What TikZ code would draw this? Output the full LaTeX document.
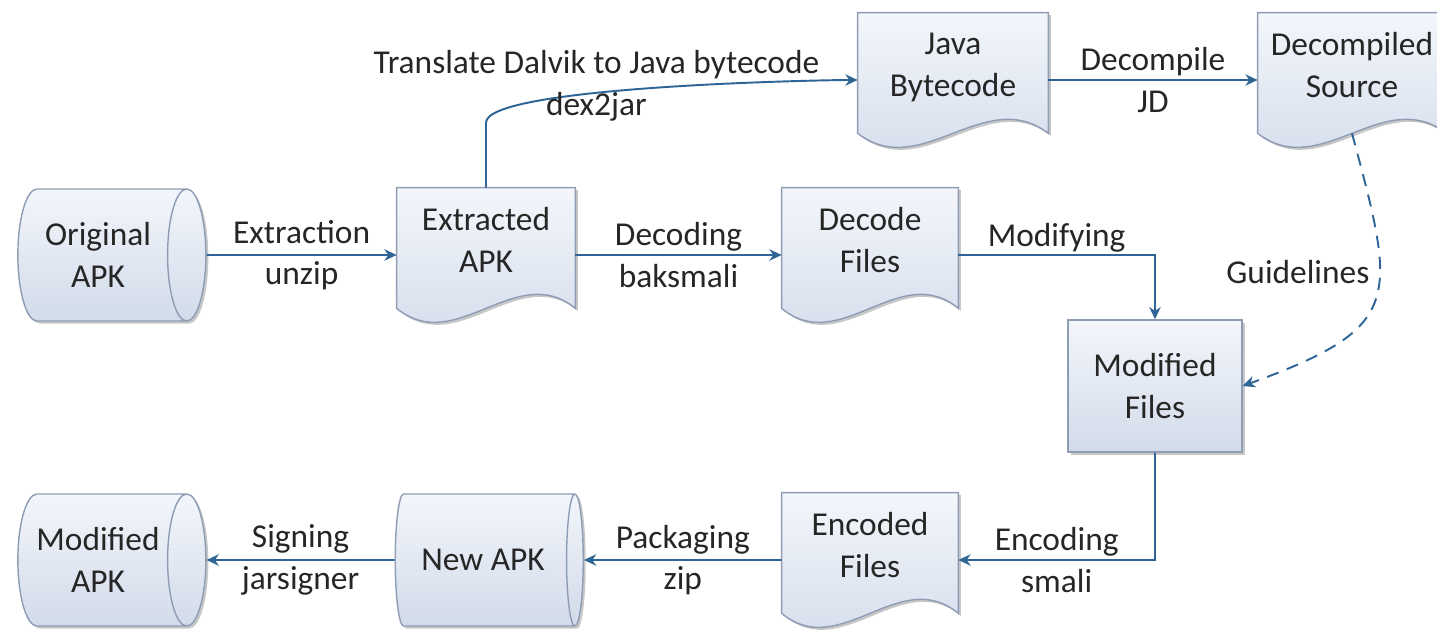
\documentclass[tikz,border=0pt]{standalone}
\usepackage{fontspec}
\setmainfont{Carlito}
\usetikzlibrary{shapes.geometric, arrows.meta, calc, backgrounds, shadows}

\definecolor{boxline}{HTML}{8E9DB4}
\definecolor{boxtop}{HTML}{F3F6FB}
\definecolor{boxbottom}{HTML}{D2DBEA}
\definecolor{flowblue}{HTML}{2F6496}
\definecolor{labeltext}{HTML}{262626}

\begin{document}
\begin{tikzpicture}[
    font=\fontsize{19}{23.7}\selectfont,
    text=labeltext,
    softshadow/.style={drop shadow={shadow xshift=0.05cm, shadow yshift=-0.05cm, fill=black, opacity=0.22}},
    apkstore/.style={cylinder, draw=boxline, line width=0.8pt, top color=boxtop, bottom color=boxbottom, aspect=0.5, minimum width=2.64cm, minimum height=3.76cm, align=center, softshadow},
    docbox/.style={rectangle, minimum height=2.68cm, align=center, text depth=0.6cm},
    docedge/.style={draw=boxline, line width=0.8pt, top color=boxtop, bottom color=boxbottom, softshadow},
    filebox/.style={rectangle, draw=boxline, line width=0.8pt, top color=boxtop, bottom color=boxbottom, minimum width=3.48cm, minimum height=2.64cm, align=center, softshadow},
    flow/.style={-{Stealth[length=7pt, width=6.5pt]}, draw=flowblue, line width=1.1pt},
    guide/.style={flow, dash pattern=on 7pt off 5pt},
    steplabel/.style={align=center, text=labeltext},
  ]
    \useasboundingbox (0,0) rectangle (28.74,12.6);

    % APK files
    \node[apkstore] (original) at (1.96, 7.5) {Original\\APK};
    \node[apkstore] (newapk) at (9.66, 1.4) {New APK};
    \node[apkstore] (modifiedapk) at (1.96, 1.4) {Modified\\APK};

    % document boxes
    \node[docbox, minimum width=3.56cm] (extracted) at (9.72, 7.5) {Extracted\\APK};
    \node[docbox, minimum width=3.52cm] (decode) at (17.4, 7.5) {Decode\\Files};
    \node[docbox, minimum width=3.8cm] (java) at (19.06, 11.0) {Java\\Bytecode};
    \node[docbox, minimum width=3.76cm] (decompiled) at (27.04, 11.0) {Decompiled\\Source};
    \node[docbox, minimum width=3.52cm] (encoded) at (17.4, 1.4) {Encoded\\Files};

    % modified files
    \node[filebox] (modifiedfiles) at (23.1, 4.88) {Modified\\Files};

    \begin{scope}[on background layer]
      \foreach \doc in {extracted, decode, java, decompiled, encoded}
        \draw[docedge] (\doc.north west) -- (\doc.north east) -- ($(\doc.south east)+(0,0.28)$)
          .. controls ($(\doc.south east)!0.333!(\doc.south west)+(0,1.25)$) and ($(\doc.south east)!0.667!(\doc.south west)+(0,-0.69)$) .. ($(\doc.south west)+(0,0.28)$) -- cycle;
    \end{scope}

    % steps
    \draw[flow] (original.east) -- node[steplabel] {Extraction\\unzip} (extracted.west);
    \draw[flow] (extracted.north) -- ++(0,1.3)
      to[out=90, in=180, looseness=0.25] node[steplabel, pos=0.38, yshift=4pt] {Translate Dalvik to Java bytecode\\dex2jar} (java.west);
    \draw[flow] (extracted.east) -- node[steplabel] {Decoding\\baksmali} (decode.west);
    \draw[flow] (java.east) -- node[steplabel] {Decompile\\JD} (decompiled.west);
    \draw[flow] (decode.east) -| node[pos=0.25, above, inner sep=1pt] {Modifying} (modifiedfiles.north);
    \draw[guide] ($(decompiled.south)+(0,0.28)$) to[out=-75, in=20, looseness=1.6] node[pos=0.38, left=2pt] {Guidelines} (modifiedfiles.east);
    \draw[flow] (modifiedfiles.south) |- node[steplabel, pos=0.75] {Encoding\\smali} (encoded.east);
    \draw[flow] (encoded.west) -- node[steplabel] {Packaging\\zip} (newapk.east);
    \draw[flow] (newapk.west) -- node[steplabel] {Signing\\jarsigner} (modifiedapk.east);

\end{tikzpicture}
\end{document}
